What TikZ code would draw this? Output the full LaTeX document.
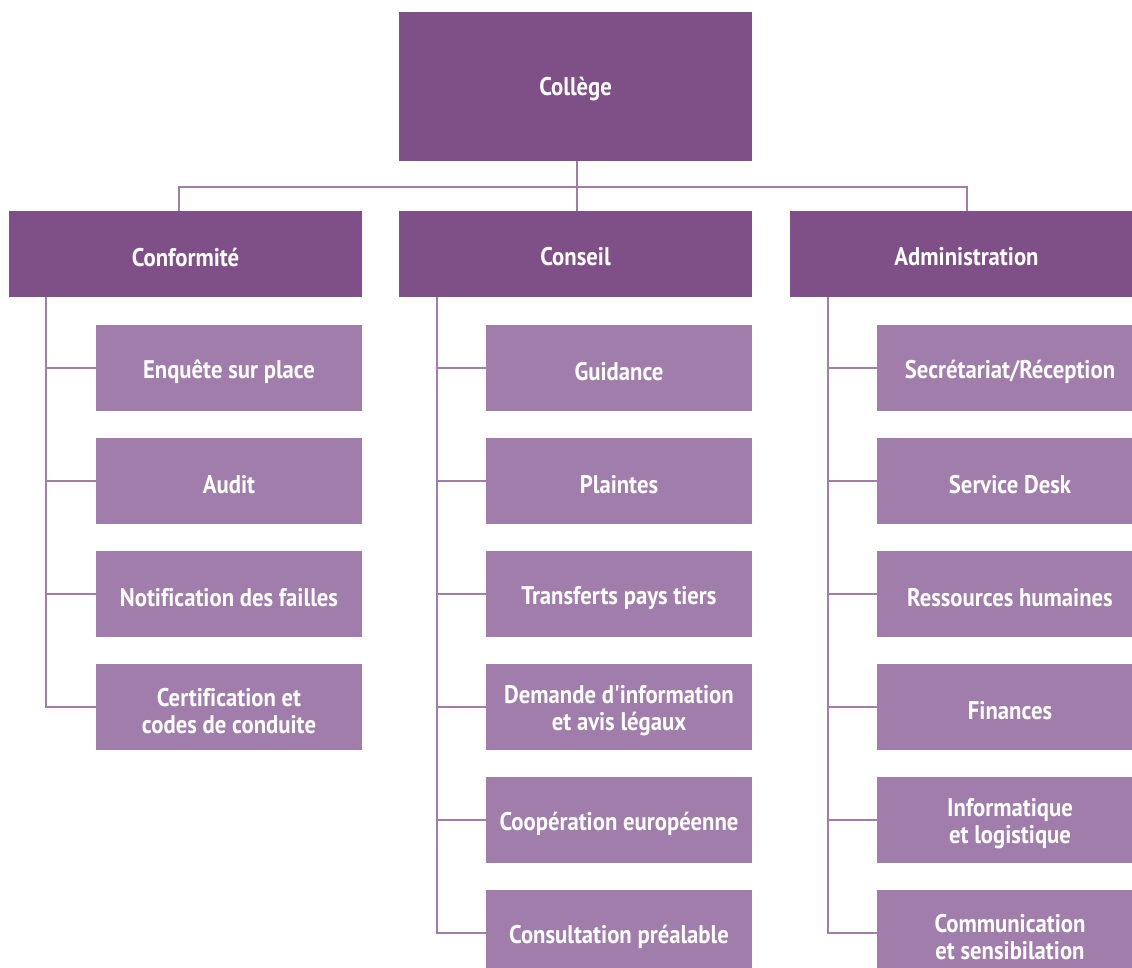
\documentclass[tikz,border=0pt]{standalone}
\usepackage{fontspec}
\setmainfont{PT Sans}[FakeStretch=0.89, Ligatures={TeXOff,NoCommon}]
\usetikzlibrary{calc}
\definecolor{darkp}{RGB}{127,79,135}
\definecolor{lightp}{RGB}{160,125,170}
\begin{document}
\begin{tikzpicture}[x=1pt,y=-1pt,
  box/.style={rectangle, inner sep=0pt, outer sep=0pt, anchor=north west},
  lbl/.style={text=white, align=center, inner sep=0pt, yshift=-4pt,
    font=\fontsize{25.5}{27}\selectfont\bfseries},
  topbox/.style={box, fill=darkp, minimum width=353pt, label={[lbl, yshift=1pt]center:#1}},
  subbox/.style={box, fill=lightp, minimum width=266pt, minimum height=86pt, label={[lbl]center:#1}},
  conn/.style={draw=lightp, line width=2pt}]
\useasboundingbox (0,0) rectangle (1132,968);
\node[topbox={Collège}, minimum height=149pt] (col) at (399,12) {};
\node[topbox={Conformité}, minimum height=86pt] (conf) at (9,211) {};
\node[topbox={Conseil}, minimum height=86pt] (cons) at (399,211) {};
\node[topbox={Administration}, minimum height=86pt] (adm) at (790,211) {};
% Conformite
\node[subbox={Enquête sur place}] (a1) at (96,325) {};
\node[subbox={Audit}] (a2) at (96,438) {};
\node[subbox={Notification des failles}] (a3) at (96,551) {};
\node[subbox={Certification et\\codes de conduite}] (a4) at (96,664) {};
% Conseil
\node[subbox={Guidance}] (b1) at (486,325) {};
\node[subbox={Plaintes}] (b2) at (486,438) {};
\node[subbox={Transferts pays tiers}] (b3) at (486,551) {};
\node[subbox={Demande d'information\\et avis légaux}] (b4) at (486,664) {};
\node[subbox={Coopération européenne}] (b5) at (486,777) {};
\node[subbox={Consultation préalable}] (b6) at (486,890) {};
% Administration
\node[subbox={Secrétariat/Réception}] (c1) at (877,325) {};
\node[subbox={Service Desk}] (c2) at (877,438) {};
\node[subbox={Ressources humaines}] (c3) at (877,551) {};
\node[subbox={Finances}] (c4) at (877,664) {};
\node[subbox={Informatique\\et logistique}] (c5) at (877,777) {};
\node[subbox={Communication\\et sensibilation}] (c6) at (877,890) {};
% top connectors
\coordinate (bus) at (0,187);
\coordinate (confin) at ($(conf.north west)+(170,0)$);
\coordinate (consin) at ($(cons.north west)+(178,0)$);
\draw[conn] (confin) |- (adm.north |- bus) -- (adm.north);
\draw[conn] (col.south -| consin) -- (consin);
% column spines
\coordinate (va) at ($(conf.south west)+(37,0)$);
\coordinate (vb) at ($(cons.south west)+(38,0)$);
\coordinate (vc) at ($(adm.south west)+(38,0)$);
\draw[conn] (va) |- (a4.west);
\foreach \n in {a1,a2,a3} \draw[conn] (va |- \n.west) -- (\n.west);
\draw[conn] (vb) |- (b6.west);
\foreach \n in {b1,b2,b3,b4,b5} \draw[conn] (vb |- \n.west) -- (\n.west);
\draw[conn] (vc) |- (c6.west);
\foreach \n in {c1,c2,c3,c4,c5} \draw[conn] (vc |- \n.west) -- (\n.west);
\end{tikzpicture}
\end{document}
